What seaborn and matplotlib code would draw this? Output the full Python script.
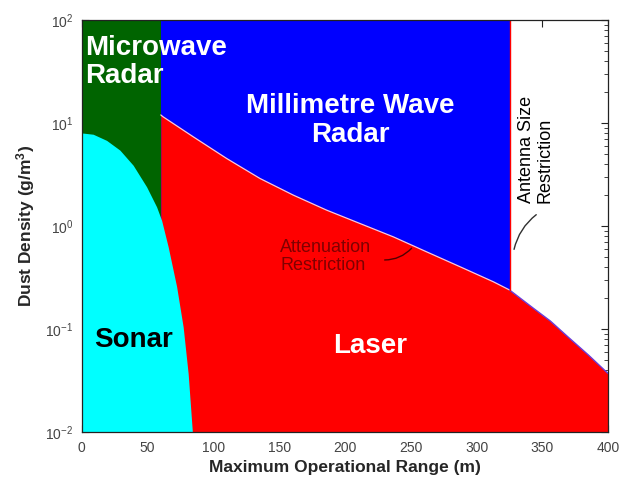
import numpy as np
import pandas as pd
import matplotlib
matplotlib.use("Agg")
import matplotlib.pyplot as plt
from matplotlib.ticker import FixedLocator, FuncFormatter, LogLocator, NullFormatter
import seaborn as sns

# Boundary of sonar usability (range in m, dust density in g/m^3)
sonar_range = [0, 1, 8.6, 18.8, 28.9, 39, 49.2, 56.8, 60.6, 65.6, 72, 77, 80.8, 84]
sonar_density = [8.0, 8.0, 7.8, 6.8, 5.47, 3.9, 2.41, 1.54, 1.14, 0.63, 0.26, 0.105, 0.037, 0.01]

# Attenuation restriction (upper limit for laser)
laser_range = [60, 61.8, 84.7, 110, 135.4, 160.7, 186, 211.4, 236.7, 262, 287.5,
               312.8, 325, 343, 356, 369, 385, 400]
laser_density = [12.0, 11.5, 7.36, 4.54, 2.90, 2.0, 1.43, 1.06, 0.787, 0.563, 0.403,
                 0.288, 0.24, 0.16, 0.12, 0.085, 0.056, 0.037]

# Band limits
microwave_max_range = 60
antenna_limit_range = 325
x_limits = [0, 400]
y_limits = [1e-2, 1e2]
x_ticks = [0, 50, 100, 150, 200, 250, 300, 350, 400]
y_ticks = [1e-2, 1e-1, 1e0, 1e1, 1e2]

sns.set_theme(style="ticks")
plt.rcParams["font.family"] = ["Liberation Sans", "DejaVu Sans"]
plt.rcParams["mathtext.fontset"] = "custom"
plt.rcParams["mathtext.rm"] = "Liberation Sans"
plt.rcParams["mathtext.it"] = "Liberation Sans:italic"
plt.rcParams["mathtext.bf"] = "Liberation Sans:bold"

fig = plt.figure(figsize=(6.2, 4.9), dpi=100)
ax = fig.add_axes([0.132, 0.118, 0.849, 0.841])
ax.set_yscale("log")
ax.set_xlim(*x_limits)
ax.set_ylim(*y_limits)

GREEN = "#006400"
BLUE = "#0000ff"
RED = "#ff0000"
CYAN = "#00ffff"

lr = np.array(laser_range)
ld = np.array(laser_density)

# Microwave radar band
ax.fill_between([x_limits[0], microwave_max_range], y_limits[0], y_limits[1],
                color=GREEN, lw=0, zorder=1)
# Millimetre wave band
ax.fill_between([microwave_max_range, antenna_limit_range], y_limits[0], y_limits[1],
                color=BLUE, lw=0, zorder=1)
# Laser region under the attenuation restriction
ax.fill_between(lr, y_limits[0], ld, color=RED, lw=0, zorder=2)
# Sonar region
ax.fill_between(sonar_range, y_limits[0], sonar_density, color=CYAN, lw=0, zorder=3)

# Boundary lines
df_att = pd.DataFrame({"range": lr[lr <= antenna_limit_range],
                       "density": ld[lr <= antenna_limit_range]})
df_tail = pd.DataFrame({"range": lr[lr >= antenna_limit_range],
                        "density": ld[lr >= antenna_limit_range]})
sns.lineplot(data=df_att, x="range", y="density", ax=ax, color="#ffc8d8",
             lw=0.9, sort=False, estimator=None, zorder=4)
sns.lineplot(data=df_tail, x="range", y="density", ax=ax, color="#6a3cd8",
             lw=1.0, sort=False, estimator=None, zorder=4)
top_at_limit = np.interp(antenna_limit_range, lr, ld)
ax.plot([antenna_limit_range, antenna_limit_range], [top_at_limit, y_limits[1]],
        color=RED, lw=1.0, zorder=4)

# Region labels
big = dict(fontsize=20, fontweight="bold", zorder=6)
ax.text(2.3, 72, "Microwave\nRadar", color="white", ha="left", va="top",
        linespacing=1.1, **big)
ax.text(204, 10.7, "Millimetre Wave\nRadar", color="white", ha="center",
        va="center", linespacing=1.15, **big)
ax.text(39.5, 0.078, "Sonar", color="black", ha="center", va="center", **big)
ax.text(219, 0.068, "Laser", color="white", ha="center", va="center", **big)

# Restriction notes
ax.text(150.6, 0.51, "Attenuation\nRestriction", color="#800000", fontsize=13,
        ha="left", va="center", multialignment="left", linespacing=1.1, zorder=6)
ax.annotate("", xy=(252, 0.64), xytext=(228, 0.47),
            arrowprops=dict(arrowstyle="-", color="#500000", lw=1.0,
                            connectionstyle="arc3,rad=0.25"), zorder=6)
ax.text(345.2, 1.67, "Antenna Size\nRestriction", color="black", fontsize=13,
        rotation=90, ha="center", va="bottom", multialignment="left",
        linespacing=1.1, zorder=6)
ax.annotate("", xy=(347, 1.34), xytext=(328, 0.56),
            arrowprops=dict(arrowstyle="-", color="#303030", lw=1.0,
                            connectionstyle="arc3,rad=-0.2"), zorder=6)

# Axes styling
ax.xaxis.set_major_locator(FixedLocator(x_ticks))
ax.yaxis.set_major_locator(FixedLocator(y_ticks))
ax.yaxis.set_minor_locator(LogLocator(base=10, subs=np.arange(2, 10)))
ax.yaxis.set_minor_formatter(NullFormatter())
ax.yaxis.set_major_formatter(FuncFormatter(lambda v, p: r"$10^{%d}$" % round(np.log10(v))))
ax.tick_params(axis="both", which="both", direction="in", top=True, right=True,
               colors="#222222", labelcolor="#444444", labelsize=10, zorder=7)
ax.tick_params(axis="both", which="major", length=5, width=0.8, pad=6)
ax.tick_params(axis="y", which="minor", length=3, width=0.6)
for s in ax.spines.values():
    s.set_color("#222222")
    s.set_linewidth(0.9)
    s.set_zorder(8)

ax.set_xlabel("Maximum Operational Range (m)", fontsize=12.5, fontweight="bold",
              labelpad=4)
ax.set_ylabel(r"Dust Density (g/m$^{\mathbf{3}}$)", fontsize=12.5,
              fontweight="bold", labelpad=6)

fig.savefig("out.png", dpi=100)
